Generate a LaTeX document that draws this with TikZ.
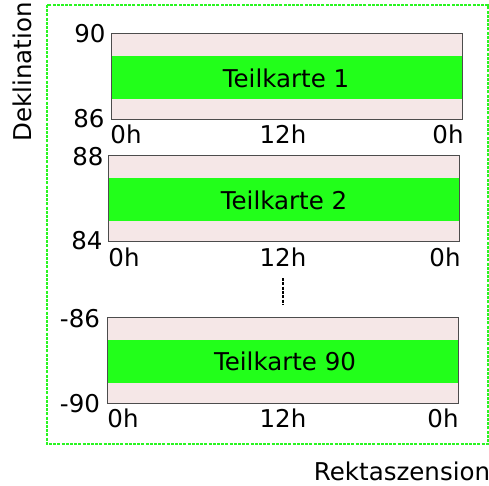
\documentclass[tikz,border=0pt]{standalone}
\usepackage{fontspec}
\setmainfont{DejaVu Sans}
\definecolor{bandgreen}{HTML}{22FF1A}
\definecolor{mappink}{HTML}{F5E7E7}
\definecolor{framegreen}{HTML}{2AF522}
\begin{document}
\begin{tikzpicture}[x=1pt,y=-1pt,
  mapbox/.style={draw=black!70,line width=0.9pt,fill=mappink,minimum width=351pt,minimum height=86pt,inner sep=0pt,outer sep=0pt},
  band/.style={fill=bandgreen,minimum width=350pt,minimum height=43pt,inner sep=0pt},
  lbl/.style={inner sep=0pt,font=\fontsize{24.5}{29}\selectfont},
]
\useasboundingbox (0,0) rectangle (489,486);
\draw[framegreen,line width=2.1pt,dash pattern=on 3pt off 1.2pt] (47,5) rectangle (488,444);

% map 1
\node[mapbox] (m1) at (286.5,76) {};
\node[band] (b1) at (286.5,77.5) {};
\node[lbl] (t1) at (286,78) {Teilkarte 1};
\node[lbl] (y1a) at (90,34) {90};
\node[lbl] (y1b) at (89,119) {86};
\node[lbl] (x1a) at (126,134) {0h};
\node[lbl] (x1b) at (283,134) {12h};
\node[lbl] (x1c) at (448,134) {0h};

% map 2
\node[mapbox] (m2) at (284,198) {};
\node[band] (b2) at (284,199.5) {};
\node[lbl] (t2) at (284,200) {Teilkarte 2};
\node[lbl] (y2a) at (88,157) {88};
\node[lbl] (y2b) at (87,241) {84};
\node[lbl] (x2a) at (124,257) {0h};
\node[lbl] (x2b) at (283,257) {12h};
\node[lbl] (x2c) at (445,257) {0h};

% map 90
\node[mapbox] (m3) at (282.5,360) {};
\node[band] (b3) at (282.5,361.5) {};
\node[lbl] (t3) at (285,361) {Teilkarte 90};
\node[lbl] (y3a) at (80,319) {-86};
\node[lbl] (y3b) at (80,404) {-90};
\node[lbl] (x3a) at (123,418) {0h};
\node[lbl] (x3b) at (283,418) {12h};
\node[lbl] (x3c) at (443,418) {0h};

% dots
\coordinate (d1) at (283,278);
\coordinate (d2) at (283,304);
\draw[line width=2.6pt,dash pattern=on 3pt off 1.3pt] (d1) -- (d2);

% axis titles
\node[lbl,rotate=90] (ax) at (22,72) {Deklination};
\node[lbl] (ay) at (402,471) {Rektaszension};
\end{tikzpicture}
\end{document}
